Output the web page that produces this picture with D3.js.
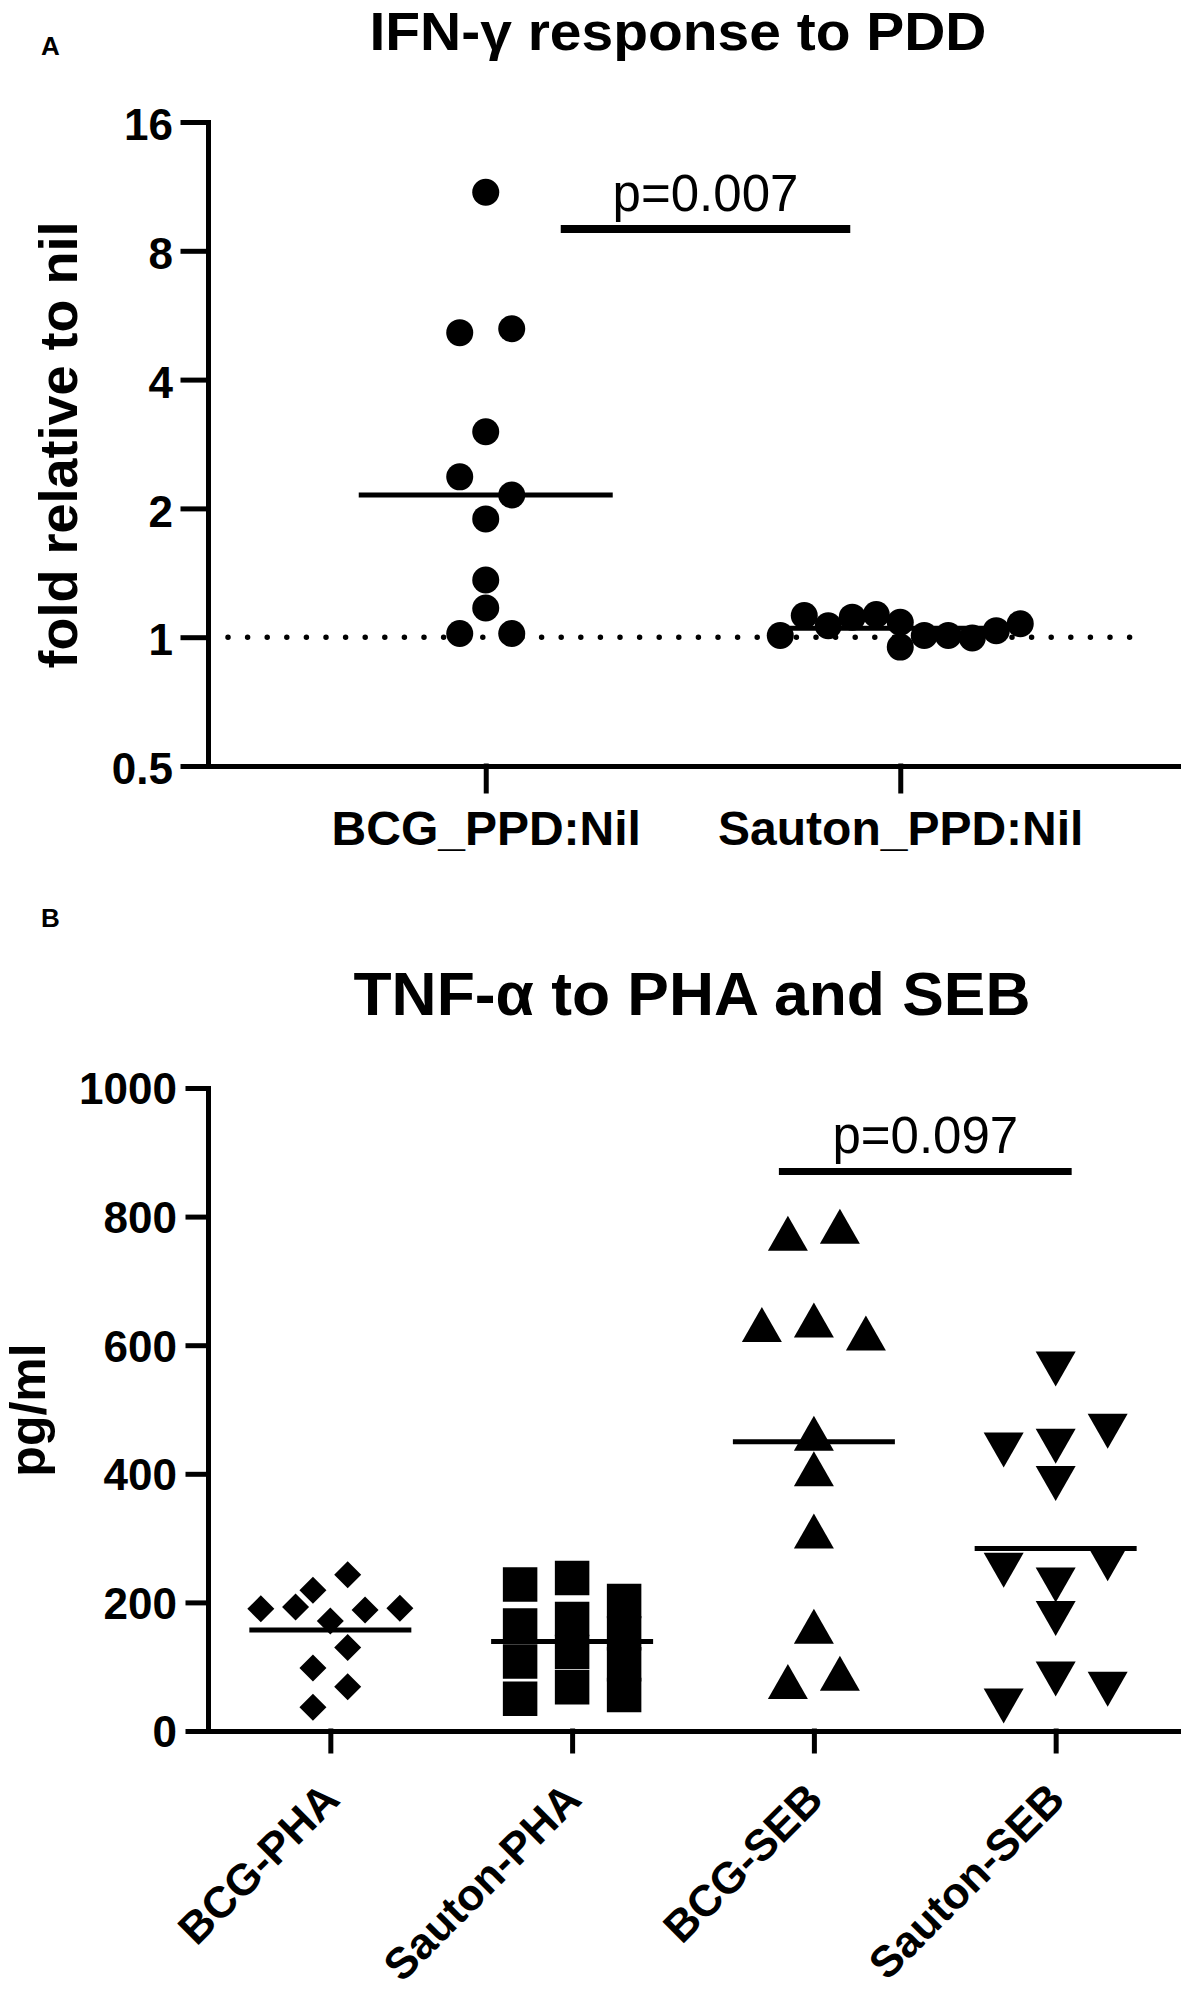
<!DOCTYPE html>
<html>
<head>
<meta charset="utf-8">
<script src="https://cdn.jsdelivr.net/npm/d3@7"></script>
<style>
  body { margin: 0; background: #fff; }
  svg { display: block; font-family: "Liberation Sans", Arial, sans-serif; }
  .axis path, .axis line { stroke: #000; stroke-width: 5; stroke-linecap: square; }
  .axis text { fill: #000; font-weight: bold; }
</style>
</head>
<body>
<svg id="chart"></svg>
<script>
// ---- panel A: IFN-g response to PPD (fold relative to nil, log2 axis)
const groupsA = ['BCG_PPD:Nil', 'Sauton_PPD:Nil'];
const bcgPpd = [10.96, 5.15, 5.26, 3.02, 2.37, 2.15, 1.89, 1.36, 1.17, 1.02, 1.02];
const sautonPpd = [1.009, 1.124, 1.064, 1.114, 1.13, 1.084, 1.009, 1.009, 0.996, 1.036, 1.075, 0.948];
const medianA = [2.15, 1.05];
const ticksA = [0.5, 1, 2, 4, 8, 16];
const pBarA = 9;

// ---- panel B: TNF-a to PHA and SEB (pg/ml)
const groupsB = ['BCG-PHA', 'Sauton-PHA', 'BCG-SEB', 'Sauton-SEB'];
const bcgPha = [219, 243, 190, 193, 171, 188, 191, 98, 130, 37, 69];
const sautonPha = [228, 238, 202, 164, 174, 152, 108, 123, 104, 50, 68, 56];
const bcgSeb = [774, 785, 632, 639, 619, 463, 408, 311, 163, 77, 90];
const sautonSeb = [563, 437, 443, 466, 385, 250, 227, 260, 175, 39, 81, 65];
const meanB = [157, 139, 450, 284];
const ticksB = [0, 200, 400, 600, 800, 1000];
const pBarB = 870;

const W = 1181, H = 2003;
const svg = d3.select('#chart').attr('width', W).attr('height', H);

// symbol shapes, sized in px
const shapes = {
  circle: 'M13.5,0A13.5,13.5,0,1,1,-13.5,0A13.5,13.5,0,1,1,13.5,0Z',
  diamond: 'M0,-13.5L13.5,0L0,13.5L-13.5,0Z',
  square: 'M-17.25,-17.25H17.25V17.25H-17.25Z',
  up: 'M0,-17.5L20,17.5L-20,17.5Z',
  down: 'M0,17.5L20,-17.5L-20,-17.5Z'
};
const shapeHeight = { circle: 27, diamond: 27, square: 34.5, up: 35, down: 35 };

// GraphPad-like scatter: points that fall within one symbol height share a row,
// rows are spread horizontally and centred on the category
function spread(values, ypos, shape, maxWidth) {
  const gap = shapeHeight[shape] * 0.9;
  const order = d3.range(values.length).sort((a, b) => values[b] - values[a]);
  const rows = [];
  let cur = null;
  order.forEach(i => {
    if (!cur || ypos(values[i]) - ypos(values[cur[0]]) >= gap) {
      cur = [i];
      rows.push(cur);
    } else {
      cur.push(i);
    }
  });
  const maxRow = d3.max(rows, r => r.length);
  const step = maxRow > 1 ? Math.min(52, maxWidth / (maxRow - 1)) : 0;
  const off = new Array(values.length);
  rows.forEach(r => {
    r.sort((a, b) => a - b);
    r.forEach((i, k) => { off[i] = (k - (r.length - 1) / 2) * step; });
  });
  return off;
}

function drawGroup(g, values, cx, ypos, shape, maxWidth) {
  const off = spread(values, ypos, shape, maxWidth);
  g.append('g')
    .selectAll('path')
    .data(values)
    .enter().append('path')
      .attr('d', shapes[shape])
      .attr('transform', (d, i) => `translate(${cx + off[i]},${ypos(d)})`)
      .attr('fill', '#000');
}

function centreLine(g, cx, y, half, w) {
  g.append('line')
    .attr('x1', cx - half).attr('x2', cx + half)
    .attr('y1', y).attr('y2', y)
    .attr('stroke', '#000').attr('stroke-width', w);
}

// ================= panel A =================
const xA = d3.scalePoint().domain(groupsA).range([208, 1178]).padding(0.67);
const yA = d3.scaleLog().base(2).domain([0.5, 16]).range([766, 122]);

const gA = svg.append('g');

gA.append('text')
  .attr('x', 41).attr('y', 55)
  .attr('font-size', 26).attr('font-weight', 'bold')
  .text('A');

gA.append('text')
  .attr('x', 678).attr('y', 50)
  .attr('text-anchor', 'middle')
  .attr('font-size', 54).attr('font-weight', 'bold')
  .attr('textLength', 617).attr('lengthAdjust', 'spacingAndGlyphs')
  .text('IFN-γ response to PDD');

gA.append('g')
    .attr('class', 'axis')
    .attr('transform', 'translate(208,0)')
    .call(d3.axisLeft(yA).tickValues(ticksA).tickFormat(d => d).tickSize(25).tickSizeOuter(0).tickPadding(10))
  .selectAll('text')
    .attr('font-size', 44)
    .attr('dy', '0.4em');

gA.append('g')
    .attr('class', 'axis')
    .attr('transform', `translate(0,${yA(0.5)})`)
    .call(d3.axisBottom(xA).tickSize(25).tickSizeOuter(0).tickPadding(20))
  .selectAll('text')
    .attr('font-size', 48);

gA.append('text')
  .attr('transform', 'translate(77,445) rotate(-90)')
  .attr('text-anchor', 'middle')
  .attr('font-size', 54).attr('font-weight', 'bold')
  .text('fold relative to nil');

// dotted reference line at 1
gA.append('line')
  .attr('x1', 228).attr('x2', 1140)
  .attr('y1', yA(1)).attr('y2', yA(1))
  .attr('stroke', '#000').attr('stroke-width', 5.5)
  .attr('stroke-linecap', 'round')
  .attr('stroke-dasharray', '0 19.6');

drawGroup(gA, bcgPpd, xA(groupsA[0]), yA, 'circle', 240);
drawGroup(gA, sautonPpd, xA(groupsA[1]), yA, 'circle', 240);
groupsA.forEach((c, i) => centreLine(gA, xA(c), yA(medianA[i]), 127, 5));

// significance bar
const pA0 = xA(groupsA[0]) + 75, pA1 = xA(groupsA[1]) - 50;
gA.append('line')
  .attr('x1', pA0).attr('x2', pA1)
  .attr('y1', yA(pBarA)).attr('y2', yA(pBarA))
  .attr('stroke', '#000').attr('stroke-width', 8);
gA.append('text')
  .attr('x', (pA0 + pA1) / 2)
  .attr('y', yA(pBarA) - 18)
  .attr('text-anchor', 'middle')
  .attr('font-size', 51)
  .text('p=0.007');

// ================= panel B =================
const xB = d3.scalePoint().domain(groupsB).range([208, 1178]).padding(0.506);
const yB = d3.scaleLinear().domain([0, 1000]).range([1731, 1088]);

const gB = svg.append('g');

gB.append('text')
  .attr('x', 41).attr('y', 927)
  .attr('font-size', 26).attr('font-weight', 'bold')
  .text('B');

gB.append('text')
  .attr('x', 692).attr('y', 1015)
  .attr('text-anchor', 'middle')
  .attr('font-size', 61).attr('font-weight', 'bold')
  .attr('textLength', 677).attr('lengthAdjust', 'spacingAndGlyphs')
  .text('TNF-α to PHA and SEB');

gB.append('g')
    .attr('class', 'axis')
    .attr('transform', 'translate(208,0)')
    .call(d3.axisLeft(yB).tickValues(ticksB).tickFormat(d3.format('d')).tickSize(20).tickSizeOuter(0).tickPadding(11))
  .selectAll('text')
    .attr('font-size', 44)
    .attr('dy', '0.36em');

gB.append('g')
    .attr('class', 'axis')
    .attr('transform', `translate(0,${yB(0)})`)
    .call(d3.axisBottom(xB).tickSize(20).tickSizeOuter(0))
  .selectAll('text')
    .attr('font-size', 44)
    .attr('y', 0)
    .attr('dy', '0.35em')
    .attr('text-anchor', 'end')
    .attr('transform', 'translate(0,60) rotate(-45)');

gB.append('text')
  .attr('transform', 'translate(45,1410) rotate(-90)')
  .attr('text-anchor', 'middle')
  .attr('font-size', 50).attr('font-weight', 'bold')
  .text('pg/ml');

const spreadB = 0.575 * xB.step();
drawGroup(gB, bcgPha, xB(groupsB[0]), yB, 'diamond', spreadB);
drawGroup(gB, sautonPha, xB(groupsB[1]), yB, 'square', spreadB);
drawGroup(gB, bcgSeb, xB(groupsB[2]), yB, 'up', spreadB);
drawGroup(gB, sautonSeb, xB(groupsB[3]), yB, 'down', spreadB);
groupsB.forEach((c, i) => centreLine(gB, xB(c), yB(meanB[i]), 81, 5));

const pB0 = xB(groupsB[2]) - 35, pB1 = xB(groupsB[3]) + 16;
gB.append('line')
  .attr('x1', pB0).attr('x2', pB1)
  .attr('y1', yB(pBarB)).attr('y2', yB(pBarB))
  .attr('stroke', '#000').attr('stroke-width', 7);
gB.append('text')
  .attr('x', (pB0 + pB1) / 2)
  .attr('y', yB(pBarB) - 19)
  .attr('text-anchor', 'middle')
  .attr('font-size', 51)
  .text('p=0.097');
</script>
</body>
</html>
